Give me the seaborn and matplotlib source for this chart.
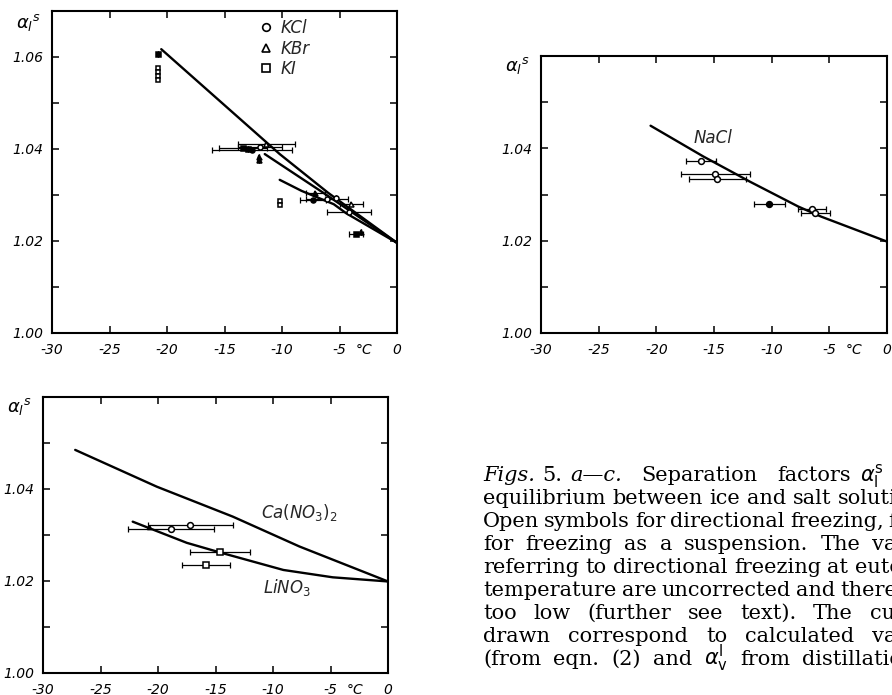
import matplotlib
matplotlib.use("Agg")
import matplotlib.pyplot as plt
import seaborn as sns
from matplotlib.lines import Line2D

# ---------------- data ----------------
x_ticks = [-30, -25, -20, -15, -10, -5, 0]
x_tick_labels = ["-30", "-25", "-20", "-15", "-10", "-5", "0"]
unit_label = "°C"
unit_pos = -2.9

# panel a: KCl / KBr / KI
a_curve1_T = [-20.5, -11.6, -10.2, -6.0, 0.0]
a_curve1_a = [1.0617, 1.0420, 1.0389, 1.0305, 1.0196]
a_curve2_T = [-11.5, -6.3, 0.0]
a_curve2_a = [1.0389, 1.0303, 1.0196]
a_curve3_T = [-10.2, -8.3, -5.5, -4.4, 0.0]
a_curve3_a = [1.0333, 1.0309, 1.0280, 1.0260, 1.0196]

kcl_open_T = [-11.9, -6.1, -5.3, -4.2]
kcl_open_a = [1.0405, 1.0291, 1.0293, 1.0262]
kcl_open_err = [1.9, 1.8, 0.0, 1.9]
kcl_filled_T = [-12.6, -7.3]
kcl_filled_a = [1.0397, 1.0289]
kcl_filled_err = [3.5, 1.1]
kbr_open_T = [-11.35, -4.0]
kbr_open_a = [1.0411, 1.0280]
kbr_open_err = [2.5, 1.0]
kbr_filled_T = [-12.0, -12.0, -7.1, -3.1]
kbr_filled_a = [1.0376, 1.0382, 1.0305, 1.0220]
kbr_filled_err = [0.0, 0.0, 0.8, 0.0]
ki_open_T = [-20.8, -20.8, -20.8, -20.8, -10.2, -10.2]
ki_open_a = [1.0576, 1.0567, 1.0558, 1.0549, 1.0288, 1.0279]
ki_filled_T = [-20.8, -13.4, -13.0, -3.6]
ki_filled_a = [1.0606, 1.0402, 1.0399, 1.0216]
ki_filled_err = [0.0, 2.1, 0.0, 0.6]
legend_labels = ["KCl", "KBr", "KI"]

# panel b: NaCl
nacl_curve_T = [-20.5, -15.9, -13.3, -11.9, -7.7, -5.7, 0.0]
nacl_curve_a = [1.0449, 1.0382, 1.0347, 1.0328, 1.0274, 1.0252, 1.0198]
nacl_open_T = [-16.1, -14.9, -14.7, -6.5, -6.2]
nacl_open_a = [1.0373, 1.0344, 1.0334, 1.0268, 1.0261]
nacl_open_err = [1.3, 3.0, 2.5, 1.25, 1.3]
nacl_filled_T = [-10.2]
nacl_filled_a = [1.0279]
nacl_filled_err = [1.35]

# panel c: Ca(NO3)2 / LiNO3
ca_curve_T = [-27.2, -20.1, -13.5, -7.7, 0.0]
ca_curve_a = [1.0485, 1.0405, 1.0340, 1.0275, 1.0199]
li_curve_T = [-22.2, -17.5, -14.6, -9.1, -4.8, 0.0]
li_curve_a = [1.0329, 1.0283, 1.0262, 1.0224, 1.0208, 1.0199]
c_circ_T = [-17.2, -18.9]
c_circ_a = [1.0322, 1.0312]
c_circ_err = [3.7, 3.75]
c_sq_T = [-14.6, -15.85]
c_sq_a = [1.0262, 1.0235]
c_sq_err = [2.64, 2.07]
c_tri_T = [-20.8]
c_tri_a = [1.0317]

caption_lines = [
    [("Figs.", "italic"), ("5.", "normal"), ("a—c.", "italic"), ("Separation", "normal"),
     ("factors", "normal"), (r"$\alpha_\mathrm{l}^\mathrm{s}$", "normal"), ("for", "normal"), ("the", "normal")],
    "equilibrium between ice and salt solutions.",
    "Open symbols for directional freezing, filled",
    "for freezing as a suspension. The values",
    "referring to directional freezing at eutectic",
    "temperature are uncorrected and therefore",
    "too low (further see text). The curves",
    "drawn correspond to calculated values",
    [("(from", "normal"), ("eqn.", "normal"), ("(2)", "normal"), ("and", "normal"),
     (r"$\alpha_\mathrm{v}^\mathrm{l}$", "normal"), ("from", "normal"), ("distillation).", "normal")],
]
line1_gaps = [7, 8, 20, 20, 9, 20, 20, 20]

# ---------------- style ----------------
sns.set_theme(style="ticks")
plt.rcParams["font.family"] = ["DejaVu Sans"]
plt.rcParams["mathtext.fontset"] = "dejavusans"

W, H = 892, 695
fig = plt.figure(figsize=(W / 100, H / 100), dpi=100)
fig.patch.set_facecolor("white")


def add_ax(l, t, r, b):
    return fig.add_axes([l / W, 1 - b / H, (r - l) / W, (b - t) / H])


def style(ax, ymax, ylab):
    ax.set_facecolor("white")
    ax.set_xlim(-30, 0)
    ax.set_ylim(1.0, ymax)
    ax.set_xticks(x_ticks, x_tick_labels)
    ax.set_xticks([unit_pos], [unit_label], minor=True)
    majors = [v / 100 for v in range(100, int(round(ymax * 100)) + 1, 2)]
    minors = [v / 100 for v in range(101, int(round(ymax * 100)) + 1, 2)]
    ax.set_yticks(majors, [f"{v:.2f}" if v in ylab else "" for v in majors])
    ax.set_yticks(minors, minor=True)
    ax.tick_params(which="both", direction="in", top=True, right=True, length=5,
                   width=1.1, color="black", labelsize=10, labelcolor="black")
    ax.tick_params(axis="x", which="both", pad=7)
    ax.tick_params(axis="y", which="both", pad=6)
    ax.tick_params(axis="x", which="minor", length=0, top=False)
    for lab in ax.get_xticklabels() + ax.get_xticklabels(minor=True) + ax.get_yticklabels():
        lab.set_fontstyle("italic")
    for s in ax.spines.values():
        s.set_linewidth(1.5)
        s.set_color("black")
    ax.text(-0.035, 0.965, r"$\alpha_{l}{}^{s}$", transform=ax.transAxes, ha="right",
            va="center", fontsize=13, color="black")


def curve(ax, T, a):
    sns.lineplot(x=T, y=a, ax=ax, color="black", lw=1.7, sort=False, estimator=None, zorder=2)


def pts(ax, T, a, marker, filled, err=None, ms=4.2):
    if err is not None:
        ax.errorbar(T, a, xerr=err, fmt="none", ecolor="black", elinewidth=0.9,
                    capsize=2.5, capthick=0.9, zorder=3)
    ax.plot(T, a, ls="none", marker=marker, ms=ms, mew=1.1, mec="black",
            mfc="black" if filled else "white", zorder=4)


# ---------------- panel a ----------------
axa = add_ax(52, 11, 397, 333)
style(axa, 1.07, [1.00, 1.02, 1.04, 1.06])
curve(axa, a_curve1_T, a_curve1_a)
curve(axa, a_curve2_T, a_curve2_a)
curve(axa, a_curve3_T, a_curve3_a)
ms_a = 3.6
pts(axa, kcl_open_T, kcl_open_a, "o", False, kcl_open_err, ms_a)
pts(axa, kcl_filled_T, kcl_filled_a, "o", True, kcl_filled_err, ms_a)
pts(axa, kbr_open_T, kbr_open_a, "^", False, kbr_open_err, ms_a)
pts(axa, kbr_filled_T, kbr_filled_a, "^", True, kbr_filled_err, ms_a)
pts(axa, ki_open_T, ki_open_a, "s", False, None, 3.0)
pts(axa, ki_filled_T, ki_filled_a, "s", True, ki_filled_err, ms_a)
handles = [Line2D([], [], ls="none", marker=m, ms=5.5, mew=1.2, mec="black", mfc="white")
           for m in ["o", "^", "s"]]
leg = axa.legend(handles, legend_labels, loc="upper left", bbox_to_anchor=(0.6, 0.975),
                 frameon=False, handlelength=0.8, handletextpad=0.5, labelspacing=0.15,
                 borderpad=0, borderaxespad=0, prop={"size": 12, "style": "italic"})

# ---------------- panel b ----------------
axb = add_ax(541, 56, 887, 333)
style(axb, 1.06, [1.00, 1.02, 1.04])
curve(axb, nacl_curve_T, nacl_curve_a)
pts(axb, nacl_open_T, nacl_open_a, "o", False, nacl_open_err)
pts(axb, nacl_filled_T, nacl_filled_a, "o", True, nacl_filled_err)
axb.text(-15.1, 1.0422, "NaCl", fontsize=12, style="italic", ha="center", va="center")

# ---------------- panel c ----------------
axc = add_ax(43, 397, 388, 673)
style(axc, 1.06, [1.00, 1.02, 1.04])
curve(axc, ca_curve_T, ca_curve_a)
curve(axc, li_curve_T, li_curve_a)
pts(axc, c_circ_T, c_circ_a, "o", False, c_circ_err)
pts(axc, c_sq_T, c_sq_a, "s", False, c_sq_err)
pts(axc, c_tri_T, c_tri_a, "^", True, None, 3.0)
axc.text(-7.7, 1.0350, r"$\mathit{Ca(NO_3)_2}$", fontsize=12, ha="center", va="center")
axc.text(-8.8, 1.0185, r"$\mathit{LiNO_3}$", fontsize=12, ha="center", va="center")

# ---------------- caption ----------------
renderer = fig.canvas.get_renderer()
X0, X1 = 483, 940
last = len(caption_lines) - 1
for k, line in enumerate(caption_lines):
    base = 481 + 23 * k
    toks = [(w, "normal") for w in line.split()] if isinstance(line, str) else line
    texts = [fig.text(0, 1 - base / H, w, fontsize=15, family="DejaVu Serif", style=st,
                      ha="left", va="baseline", color="black") for w, st in toks]
    widths = [t.get_window_extent(renderer).width for t in texts]
    if k == 0:
        gaps = list(line1_gaps) + [20] * max(0, len(texts) - len(line1_gaps))
    elif k == last:
        gaps = [12] * len(texts)
    else:
        g = max((X1 - X0 - sum(widths)) / max(len(texts) - 1, 1), 5)
        gaps = [g] * len(texts)
    x = X0
    for t, w, g in zip(texts, widths, gaps):
        t.set_x(x / W)
        x += w + g

fig.savefig("out.png", dpi=100, facecolor="white")
